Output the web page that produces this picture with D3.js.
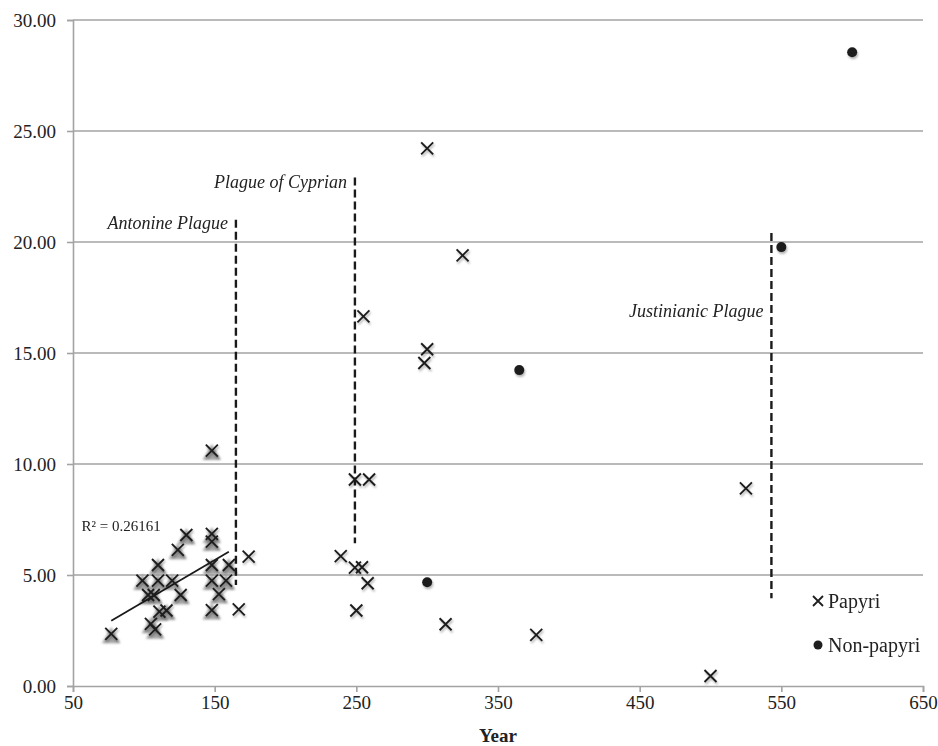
<!DOCTYPE html>
<html>
<head>
<meta charset="utf-8">
<script src="https://cdn.jsdelivr.net/npm/d3@7"></script>
<style>
  html, body { margin: 0; padding: 0; background: #fff; }
  svg { display: block; }
  text { font-family: "Liberation Serif", "Times New Roman", serif; fill: #222; }
</style>
</head>
<body>
<svg id="chart" width="938" height="746"></svg>
<script>
// ---- data ----
const papyriYears  = [77, 99, 103, 105, 107, 108, 110, 110, 111, 116, 120, 124, 126, 130,
                      148, 148, 148, 148, 148, 148, 153, 158, 160, 167, 174,
                      239, 249, 249, 250, 254, 255, 258, 259, 298, 300, 300, 313, 325, 377, 500, 525];
const papyriValues = [2.35, 4.75, 4.1, 2.8, 4.1, 2.55, 5.45, 4.75, 3.35, 3.4, 4.75, 6.13, 4.1, 6.8,
                      10.6, 6.85, 6.5, 5.45, 4.75, 3.42, 4.14, 4.75, 5.45, 3.45, 5.83,
                      5.85, 9.3, 5.33, 3.4, 5.35, 16.65, 4.63, 9.3, 14.55, 24.22, 15.17, 2.78, 19.4, 2.3, 0.45, 8.9];
const nonPapyriYears  = [300, 365, 550, 600];
const nonPapyriValues = [4.67, 14.23, 19.77, 28.55];

const shadedMaxYear = 160;            // points also carrying the grey (trend-series) marker
const trendYears  = [77, 160];
const trendValues = [2.94, 6.05];
const trendLabel  = "R² = 0.26161";
const trendLabelAt = [56, 7.0];

const plagueNames   = ["Antonine Plague", "Plague of Cyprian", "Justinianic Plague"];
const plagueYears   = [165, 249, 543];
const plagueTop     = [21.0, 22.9, 20.4];
const plagueBottom  = [4.55, 6.43, 3.95];
const plagueLabelY  = [20.6, 22.45, 16.6];

const xTicks = [50, 150, 250, 350, 450, 550, 650];
const yTicks = [0, 5, 10, 15, 20, 25, 30];
const xTitle = "Year";
const legendNames = ["Papyri", "Non-papyri"];

// ---- layout ----
const W = 938, H = 746;
const margin = {left: 73, right: 15, top: 20, bottom: 60};
const svg = d3.select("#chart");

const x = d3.scaleLinear().domain([50, 650]).range([margin.left, W - margin.right]);
const y = d3.scaleLinear().domain([0, 30]).range([H - margin.bottom, margin.top]);

const defs = svg.append("defs");
const f = defs.append("filter").attr("id", "shadow").attr("x", "-50%").attr("y", "-50%").attr("width", "200%").attr("height", "200%");
f.append("feDropShadow").attr("dx", 1).attr("dy", 2).attr("stdDeviation", 1.2)
  .attr("flood-color", "#000").attr("flood-opacity", 0.3);
const blur = defs.append("filter").attr("id", "blur").attr("x", "-50%").attr("y", "-50%").attr("width", "200%").attr("height", "200%");
blur.append("feGaussianBlur").attr("stdDeviation", 0.8);

const gridColor = "#a3a3a3";

// grid lines
svg.append("g")
  .selectAll("line").data(yTicks.filter(d => d > 0)).join("line")
  .attr("x1", x.range()[0]).attr("x2", x.range()[1])
  .attr("y1", d => y(d)).attr("y2", d => y(d))
  .attr("stroke", gridColor).attr("stroke-width", 1.6);

// axes
const xAxis = svg.append("g")
  .attr("transform", `translate(0,${y(0)})`)
  .call(d3.axisBottom(x).tickValues(xTicks).tickSize(6).tickPadding(4).tickFormat(d3.format("d")));
const yAxis = svg.append("g")
  .attr("transform", `translate(${x(50)},0)`)
  .call(d3.axisLeft(y).tickValues(yTicks).tickSize(6).tickPadding(11).tickFormat(d3.format(".2f")));
[xAxis, yAxis].forEach(g => {
  g.select(".domain").attr("stroke", gridColor).attr("stroke-width", 1.6);
  g.selectAll(".tick line").attr("stroke", gridColor).attr("stroke-width", 1.6);
  g.selectAll(".tick text").attr("font-family", "Liberation Serif").attr("font-size", 19).attr("fill", "#222");
});

svg.append("text")
  .attr("x", (x.range()[0] + x.range()[1]) / 2).attr("y", 742)
  .attr("text-anchor", "middle").attr("font-weight", "bold").attr("font-size", 19)
  .text(xTitle);

// grey trend-series markers (under the crosses)
const shaded = papyriYears.map((d, i) => [d, papyriValues[i]]).filter(d => d[0] <= shadedMaxYear);
svg.append("g").attr("filter", "url(#blur)")
  .selectAll("path").data(shaded).join("path")
  .attr("d", d3.symbol().type(d3.symbolTriangle).size(150))
  .attr("transform", d => `translate(${x(d[0])},${y(d[1]) + 4})`)
  .attr("fill", "#959595").attr("opacity", 0.85);

// plague dashed lines
svg.append("g").selectAll("line").data(plagueYears).join("line")
  .attr("x1", d => x(d)).attr("x2", d => x(d))
  .attr("y1", (d, i) => y(plagueTop[i])).attr("y2", (d, i) => y(plagueBottom[i]))
  .attr("stroke", "#1a1a1a").attr("stroke-width", 2.4).attr("stroke-dasharray", "8,4");
svg.append("g").selectAll("text").data(plagueNames).join("text")
  .attr("x", (d, i) => x(plagueYears[i]) - 8).attr("y", (d, i) => y(plagueLabelY[i]))
  .attr("text-anchor", "end").attr("font-style", "italic").attr("font-size", 18)
  .text(d => d);

// trend line
svg.append("line")
  .attr("x1", x(trendYears[0])).attr("y1", y(trendValues[0]))
  .attr("x2", x(trendYears[1])).attr("y2", y(trendValues[1]))
  .attr("stroke", "#1a1a1a").attr("stroke-width", 1.8);
svg.append("text")
  .attr("x", x(trendLabelAt[0])).attr("y", y(trendLabelAt[1]))
  .attr("font-size", 15).text(trendLabel);

// papyri crosses
const cross = "M-6,-6L6,6M-6,6L6,-6";
svg.append("g").attr("filter", "url(#shadow)")
  .selectAll("path").data(papyriYears).join("path")
  .attr("d", cross)
  .attr("transform", (d, i) => `translate(${x(d)},${y(papyriValues[i])})`)
  .attr("stroke", "#1f1f1f").attr("stroke-width", 1.9).attr("fill", "none");

// non-papyri dots
svg.append("g").attr("filter", "url(#shadow)")
  .selectAll("circle").data(nonPapyriYears).join("circle")
  .attr("cx", d => x(d)).attr("cy", (d, i) => y(nonPapyriValues[i]))
  .attr("r", 5).attr("fill", "#1f1f1f");

// legend
const lg = svg.append("g").attr("transform", "translate(818,0)");
lg.append("path").attr("d", "M-5,-5L5,5M-5,5L5,-5")
  .attr("transform", "translate(0,601)").attr("stroke", "#1f1f1f").attr("stroke-width", 1.8);
lg.append("text").attr("x", 10).attr("y", 608).attr("font-size", 20).text(legendNames[0]);
lg.append("circle").attr("cx", 0).attr("cy", 645).attr("r", 4.5).attr("fill", "#1f1f1f");
lg.append("text").attr("x", 10).attr("y", 652).attr("font-size", 20).text(legendNames[1]);
</script>
</body>
</html>
